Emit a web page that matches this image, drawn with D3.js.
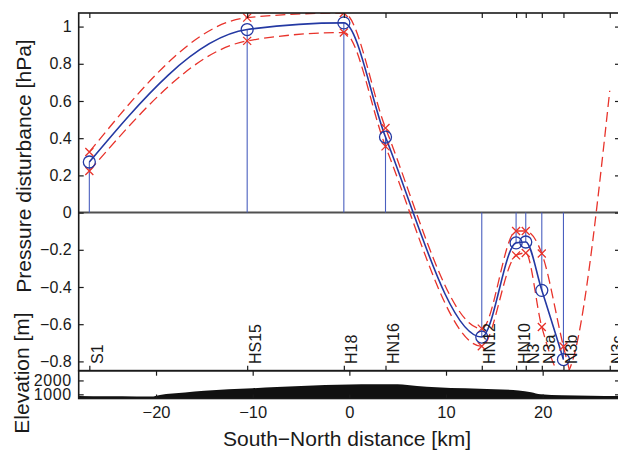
<!DOCTYPE html>
<html><head><meta charset="utf-8">
<script src="https://cdn.jsdelivr.net/npm/d3@7"></script>
<style>
body{margin:0;background:#fff;}
svg text{font-family:"Liberation Sans",Arial,Helvetica,sans-serif;fill:#1a1a1a;}
</style>
</head><body>
<svg id="chart" width="618" height="451"></svg>
<script>
// ---------- data ----------
const stations   = ["S1","HS15","H18","HN16","HN12","HN10","N3","N3a","N3b","N3c"];
const stationKm  = [-26.9,-10.57,-0.57,3.74,13.70,17.25,18.25,19.91,22.15,26.94];
const pressure   = [0.272,0.984,1.02,0.406,-0.669,-0.163,-0.158,-0.418,-0.79,null];
const upperBound = [0.326,1.048,1.073,0.455,-0.624,-0.099,-0.099,-0.22,-0.72,-1.6];
const lowerBound = [0.224,0.923,0.968,0.356,-0.719,-0.23,-0.217,-0.615,-0.88,0.655];

const elevKm = [-28,-25,-22,-20.5,-19.6,-17,-15,-12.5,-10,-7.5,-5,-2.5,0,2.5,5,7,9,12,15,17.5,18.8,19.8,22,25,28];
const elevM  = [880,860,850,840,960,1130,1250,1360,1440,1520,1600,1670,1710,1730,1720,1600,1510,1430,1370,1280,1150,1000,930,900,880];

const pTicks  = [-0.8,-0.6,-0.4,-0.2,0,0.2,0.4,0.6,0.8,1];
const pLabels = ["\u22120.8","\u22120.6","\u22120.4","\u22120.2","0","0.2","0.4","0.6","0.8","1"];
const xTicks  = [-20,-10,0,10,20];
const xLabels = ["\u221220","\u221210","0","10","20"];
const eTicks  = [1000,2000];
const eLabels = ["1000","2000"];

// ---------- layout ----------
const svg = d3.select("#chart");
const L = 78.7, R = 620;
const topY0 = 13, topY1 = 370.7, elY1 = 398.5;

const x = d3.scaleLinear().domain([-28,28]).range([L,R]);
const y = d3.scaleLinear().domain([-0.85,1.073]).range([topY1,topY0]);
const ye = d3.scaleLinear().domain([700,2700]).range([elY1,topY1]);

const axisColor = "#1a1a1a";

svg.append("defs").append("clipPath").attr("id","clipTop")
  .append("rect").attr("x",L).attr("y",topY0).attr("width",R-L).attr("height",topY1-topY0);

// elevation fill
svg.append("path")
  .datum(elevKm.map((k,i)=>[k,elevM[i]]))
  .attr("fill","#111")
  .attr("d", d3.area().x(d=>x(d[0])).y0(elY1).y1(d=>ye(d[1])).curve(d3.curveMonotoneX));

const gTop = svg.append("g").attr("clip-path","url(#clipTop)");

// zero line
gTop.append("line").attr("x1",L).attr("x2",R).attr("y1",y(0)).attr("y2",y(0))
  .attr("stroke","#505050").attr("stroke-width",2);

const idx = d3.range(stations.length);
const withP = idx.filter(i=>pressure[i]!==null);

// stems
gTop.selectAll("line.stem").data(withP).join("line").attr("class","stem")
  .attr("x1",i=>x(stationKm[i])).attr("x2",i=>x(stationKm[i]))
  .attr("y1",y(0)).attr("y2",i=>y(pressure[i]))
  .attr("stroke","#4a5fbf").attr("stroke-width",1.1);

// red dashed bounds
const lineGen = d3.line().x(d=>x(d[0])).y(d=>y(d[1])).curve(d3.curveMonotoneX);
[upperBound,lowerBound].forEach(arr=>{
  gTop.append("path").datum(idx.map(i=>[stationKm[i],arr[i]]))
    .attr("fill","none").attr("stroke","#e8332b").attr("stroke-width",1.3)
    .attr("stroke-dasharray","10,5").attr("d",lineGen);
});

// blue curve
gTop.append("path").datum(withP.map(i=>[stationKm[i],pressure[i]]))
  .attr("fill","none").attr("stroke","#2439a3").attr("stroke-width",1.6).attr("d",lineGen);

// x markers
const xm = 4;
[upperBound,lowerBound].forEach(arr=>{
  gTop.selectAll(null).data(withP).join("path")
    .attr("d",i=>{const cx=x(stationKm[i]), cy=y(arr[i]);
      return `M${cx-xm},${cy-xm}L${cx+xm},${cy+xm}M${cx-xm},${cy+xm}L${cx+xm},${cy-xm}`;})
    .attr("stroke","#e8332b").attr("stroke-width",1.3).attr("fill","none");
});

// circles
gTop.selectAll("circle").data(withP).join("circle")
  .attr("cx",i=>x(stationKm[i])).attr("cy",i=>y(pressure[i])).attr("r",6)
  .attr("fill","none").attr("stroke","#2439a3").attr("stroke-width",1.3);

// station labels
svg.selectAll("text.st").data(idx).join("text").attr("class","st")
  .attr("transform",i=>`translate(${x(stationKm[i])+13.5},364) rotate(-90)`)
  .attr("font-size",16).text(i=>stations[i]);

// ---------- axes ----------
const styleTicks = g=>{g.select(".domain").remove(); g.selectAll("line").attr("stroke",axisColor).attr("stroke-width",1.2);};
// top panel left
svg.append("g").attr("transform",`translate(${L},0)`)
  .call(d3.axisLeft(y).tickValues(pTicks).tickFormat((d,i)=>pLabels[i]).tickSizeInner(-5).tickSizeOuter(0).tickPadding(7))
  .call(g=>{styleTicks(g);
            g.selectAll("text").attr("font-size",16).attr("font-family","Liberation Sans, Arial, sans-serif").attr("fill","#1a1a1a");});
// top panel right
svg.append("g").attr("transform",`translate(${R},0)`)
  .call(d3.axisRight(y).tickValues(pTicks).tickFormat("").tickSizeInner(-5).tickSizeOuter(0))
  .call(styleTicks);
// station ticks on top & bottom of top panel
svg.append("g").attr("transform",`translate(0,${topY0})`)
  .call(d3.axisTop(x).tickValues(stationKm).tickFormat("").tickSizeInner(-5).tickSizeOuter(0))
  .call(styleTicks);
svg.append("g").attr("transform",`translate(0,${topY1})`)
  .call(d3.axisBottom(x).tickValues(stationKm).tickFormat("").tickSizeInner(-5).tickSizeOuter(0))
  .call(styleTicks);

// elevation panel axes
svg.append("g").attr("transform",`translate(0,${elY1})`)
  .call(d3.axisBottom(x).tickValues(xTicks).tickFormat((d,i)=>xLabels[i]).tickSizeInner(-4).tickSizeOuter(0).tickPadding(8))
  .call(g=>{styleTicks(g);
            g.selectAll("text").attr("font-size",16.5).attr("font-family","Liberation Sans, Arial, sans-serif").attr("fill","#1a1a1a");});
svg.append("g").attr("transform",`translate(0,${topY1})`)
  .call(d3.axisTop(x).tickValues(xTicks).tickFormat("").tickSizeInner(-5).tickSizeOuter(0))
  .call(styleTicks);
svg.append("g").attr("transform",`translate(${L},0)`)
  .call(d3.axisLeft(ye).tickValues(eTicks).tickFormat((d,i)=>eLabels[i]).tickSizeInner(-5).tickSizeOuter(0).tickPadding(7))
  .call(g=>{styleTicks(g);
            g.selectAll("text").attr("font-size",16).attr("letter-spacing",0.6).attr("font-family","Liberation Sans, Arial, sans-serif").attr("fill","#1a1a1a");});
svg.append("g").attr("transform",`translate(${R},0)`)
  .call(d3.axisRight(ye).tickValues(eTicks).tickFormat("").tickSizeInner(-5).tickSizeOuter(0))
  .call(styleTicks);

// frames
const frame = (y0,y1)=>svg.append("rect").attr("x",L).attr("y",y0).attr("width",R-L).attr("height",y1-y0)
  .attr("fill","none").attr("stroke",axisColor).attr("stroke-width",1.6);
frame(topY0,topY1);
frame(topY1,elY1);

// axis titles
svg.append("text").attr("x",347).attr("y",446).attr("text-anchor","middle")
  .attr("font-size",21).text("South\u2212North distance [km]");
svg.append("text").attr("transform","translate(31,166) rotate(-90)").attr("text-anchor","middle")
  .attr("font-size",21).text("Pressure disturbance [hPa]");
svg.append("text").attr("transform","translate(29,373) rotate(-90)").attr("text-anchor","middle")
  .attr("font-size",21).text("Elevation [m]");
</script>
</body></html>
